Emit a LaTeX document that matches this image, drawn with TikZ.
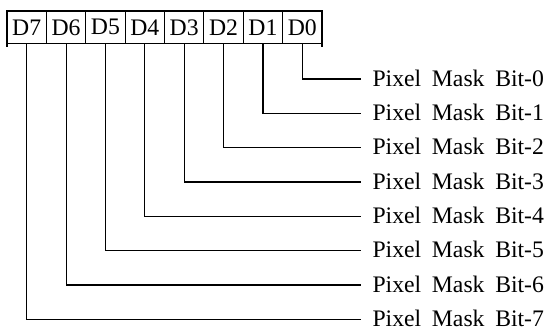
\documentclass[tikz,border=0pt]{standalone}
\usepackage{fontspec}
\setmainfont{Liberation Serif}
\usetikzlibrary{positioning}
\newcommand\maskfont{\fontsize{23.7}{28}\selectfont\spaceskip=0.45em\relax}

\begin{document}
\begin{tikzpicture}[x=1pt,y=-1pt,line width=1.1pt]
  \tikzset{
    cell/.style={draw,minimum width=39.375pt,minimum height=32.5pt,inner sep=0pt,
        outer sep=0pt,font=\fontsize{23.7}{26}\selectfont},
    wire/.style={draw,line width=1.1pt},
    lbl/.style={inner sep=0pt,yshift=1pt,font=\maskfont}
  }
  \useasboundingbox (0,0) rectangle (553,329);
  \node[cell] (d7) at (26.7,27.3) {D7};
  \foreach \b [remember=\b as \a (initially 7)] in {6,...,0}{
      \node[cell,right=0pt of d\a] (d\b) {D\b};
    }
  \draw[wire] (d7.south west)--++(0,3);
  \draw[wire] (d0.south east)--++(0,3);

  \foreach \b in {0,...,7}{
      \pgfmathsetmacro\yy{79+34.33*\b}
      \coordinate (e\b) at (361,\yy);
      \draw[wire] (d\b.south) |- (e\b);
      \node[lbl,right=11pt of e\b] (t\b) {Pixel Mask Bit-\b};
    }
\end{tikzpicture}
\end{document}
